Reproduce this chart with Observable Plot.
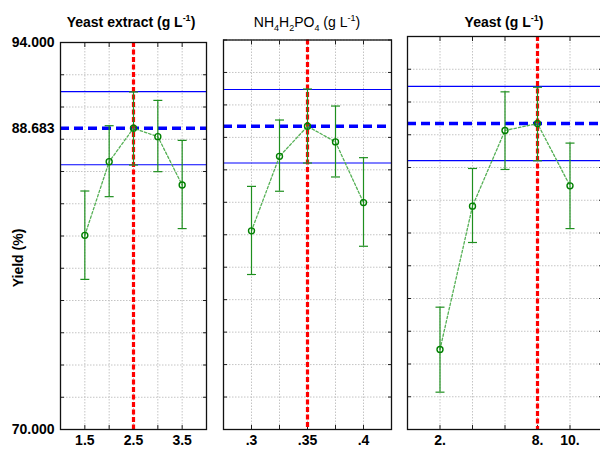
<!DOCTYPE html>
<html><head><meta charset="utf-8">
<script src="https://cdn.jsdelivr.net/npm/d3@7"></script>
<script src="https://cdn.jsdelivr.net/npm/@observablehq/plot@0.6"></script>
<style>
body{margin:0;background:#fff;}
#chart{position:relative;width:600px;height:449px;overflow:hidden;font-family:"Liberation Sans",Arial,sans-serif;color:#000;}
.panel{position:absolute;top:0;}
.title{position:absolute;top:14px;font-size:14px;line-height:16px;white-space:nowrap;transform:translateX(-50%);}
.title sup,.title sub{font-size:9px;line-height:0;}
.bold{font-weight:bold;}
#ylab{position:absolute;left:18px;top:258px;font-size:14px;font-weight:bold;white-space:nowrap;transform:translate(-50%,-50%) rotate(-90deg);}
</style></head>
<body>
<div id="chart">
  <div class="title bold" style="left:131px">Yeast extract (g L<sup>-1</sup>)</div>
  <div class="title" style="left:307px">NH<sub>4</sub>H<sub>2</sub>PO<sub>4</sub> (g L<sup>-1</sup>)</div>
  <div class="title bold" style="left:504px">Yeast (g L<sup>-1</sup>)</div>
  <div id="ylab">Yield (%)</div>
</div>
<script>
// ---- data ----
const yDomain = [70, 94];
const yLabelTicks = [70, 88.683, 94];
const optYield = 88.683;
const ciBounds = [86.42, 90.95];

const yeastExtractX = [1.5, 2, 2.5, 3, 3.5];
const yeastExtractMean = [82.04, 86.61, 88.683, 88.16, 85.16];
const yeastExtractLo = [79.31, 84.44, 86.40, 85.99, 82.46];
const yeastExtractHi = [84.79, 88.84, 90.93, 90.41, 87.93];
const yeastExtractGrid = [1.5, 2, 2.5, 3, 3.5];
const yeastExtractLabels = [1.5, 2.5, 3.5];
const yeastExtractOpt = 2.5;

const nh4X = [0.3, 0.325, 0.35, 0.375, 0.4];
const nh4Mean = [82.24, 86.83, 88.683, 87.72, 83.98];
const nh4Lo = [79.55, 84.68, 86.42, 85.56, 81.29];
const nh4Hi = [84.98, 89.07, 90.98, 89.93, 86.75];
const nh4Grid = [0.3, 0.325, 0.35, 0.375, 0.4];
const nh4Labels = [0.3, 0.35, 0.4];
const nh4Opt = 0.35;

const yeastX = [2, 4, 6, 8, 10];
const yeastMean = [74.89, 83.64, 88.26, 88.683, 84.88];
const yeastLo = [72.28, 81.42, 85.88, 86.41, 82.27];
const yeastHi = [77.47, 85.94, 90.62, 90.90, 87.49];
const yeastGrid = [2, 4, 6, 8, 10];
const yeastLabels = [2, 8, 10];
const yeastOpt = 8;

// ---- drawing ----
const yGrid = d3.range(70, 95, 2);
const cap = {draw(ctx, size){ const r = Math.sqrt(size / Math.PI); ctx.moveTo(-r, 0); ctx.lineTo(r, 0); }};
const noText = () => "";

function panel(cfg){
  const rows = cfg.x.map((v, i) => ({x: v, mean: cfg.mean[i], lo: cfg.lo[i], hi: cfg.hi[i]}));
  const gridStyle = {stroke: "#c4c4c4", strokeOpacity: 1, strokeDasharray: "1.5,1.5"};
  const marks = [
    Plot.gridY(yGrid, gridStyle),
    Plot.gridX(cfg.grid, gridStyle),
    Plot.axisY(yGrid, {anchor: "left", tickSize: -4, tickFormat: noText, label: null, stroke: "#222"}),
    Plot.axisY(yGrid, {anchor: "right", tickSize: -4, tickFormat: noText, label: null, stroke: "#222"}),
    Plot.axisX(cfg.grid, {anchor: "top", tickSize: -4, tickFormat: noText, label: null, stroke: "#222"}),
    Plot.axisX(cfg.grid, {anchor: "bottom", tickSize: -4, tickFormat: noText, label: null, stroke: "#222"}),
    Plot.axisX(cfg.labels, {anchor: "bottom", tickSize: 0, tickPadding: 6, tickFormat: cfg.fmt, fontSize: 14, fontWeight: "bold", label: null})
  ];
  if (cfg.showY) marks.push(Plot.axisY(yLabelTicks, {anchor: "left", tickSize: 0, tickPadding: 6, tickFormat: d3.format(".3f"), fontSize: 14, fontWeight: "bold", label: null}));
  marks.push(
    Plot.ruleY(ciBounds, {stroke: "#0000ff", strokeWidth: 1.2}),
    Plot.ruleY([optYield], {stroke: "#0000ff", strokeWidth: 3.5, strokeDasharray: "9,5"}),
    Plot.ruleX([cfg.opt], {stroke: "#ff0000", strokeWidth: 3.2, strokeDasharray: "5,2.5"}),
    Plot.line(rows, {x: "x", y: "mean", stroke: "#55b055", strokeWidth: 1.3, strokeDasharray: "2.5,2"}),
    Plot.ruleX(rows, {x: "x", y1: "lo", y2: "hi", stroke: "#1f8f1f", strokeWidth: 1.2}),
    Plot.dot(rows, {x: "x", y: "lo", symbol: cap, r: 4.5, stroke: "#1f8f1f", fill: "none", strokeWidth: 1.2}),
    Plot.dot(rows, {x: "x", y: "hi", symbol: cap, r: 4.5, stroke: "#1f8f1f", fill: "none", strokeWidth: 1.2}),
    Plot.dot(rows, {x: "x", y: "mean", r: 3, stroke: "#008000", strokeWidth: 1.4, fill: "none"}),
    Plot.frame({stroke: "#111", strokeWidth: 1.3})
  );
  const svg = Plot.plot({
    width: cfg.width, height: 449,
    marginLeft: cfg.ml, marginRight: cfg.mr, marginTop: cfg.mt, marginBottom: 20,
    x: {domain: cfg.domain},
    y: {domain: yDomain},
    style: {fontFamily: '"Liberation Sans", Arial, sans-serif', color: "#000", background: "transparent", overflow: "visible"},
    marks
  });
  svg.classList.add("panel");
  svg.style.left = cfg.left + "px";
  document.getElementById("chart").appendChild(svg);
}

panel({x: yeastExtractX, mean: yeastExtractMean, lo: yeastExtractLo, hi: yeastExtractHi, grid: yeastExtractGrid, labels: yeastExtractLabels, opt: yeastExtractOpt,
  domain: [1, 4], fmt: d3.format(".1f"), left: 0, width: 214, ml: 60, mr: 8, mt: 42, showY: true});
panel({x: nh4X, mean: nh4Mean, lo: nh4Lo, hi: nh4Hi, grid: nh4Grid, labels: nh4Labels, opt: nh4Opt,
  domain: [0.275, 0.425], fmt: d => String(d).replace(/^0/, ""), left: 214, width: 184, ml: 9, mr: 7, mt: 39.5, showY: false});
panel({x: yeastX, mean: yeastMean, lo: yeastLo, hi: yeastHi, grid: yeastGrid, labels: yeastLabels, opt: yeastOpt,
  domain: [0, 12], fmt: d => d + ".", left: 398, width: 210, ml: 9, mr: 6, mt: 36, showY: false});
</script>
</body></html>
